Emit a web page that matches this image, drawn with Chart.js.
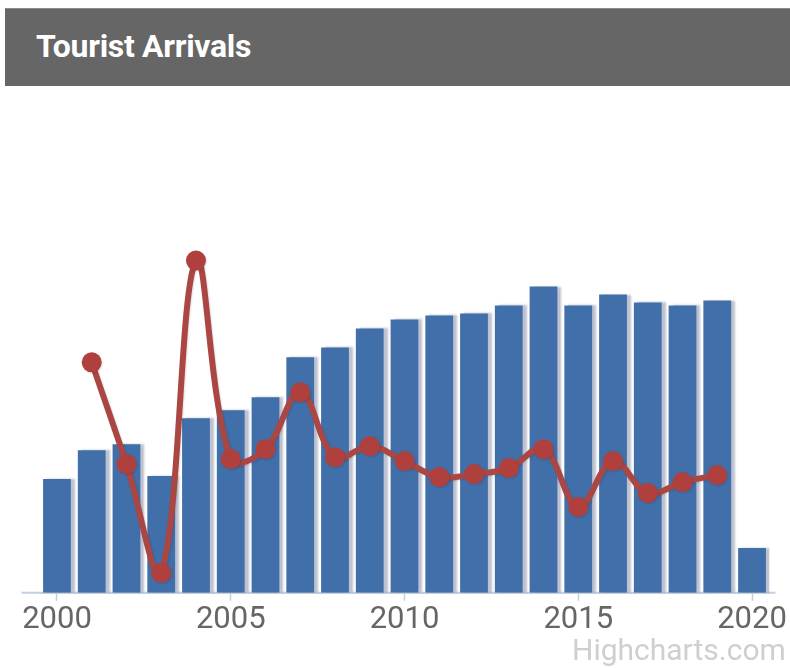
<!DOCTYPE html>
<html>
<head>
<meta charset="utf-8">
<script src="https://cdn.jsdelivr.net/npm/chart.js@4"></script>
<style>
  html, body { margin: 0; padding: 0; background: #fff; overflow: hidden; }
  body { width: 790px; height: 668px; position: relative; font-family: Roboto, "Noto Sans", sans-serif; }
  #titleBar {
    position: absolute; left: 5px; top: 8px; width: 785px; height: 78px;
    background: #666666; border-top: 1px solid #8a8a8a; box-sizing: border-box;
  }
  #titleBar span {
    position: absolute; left: 31px; top: 50%; transform: translateY(-54%);
    color: #fff; font-weight: bold; font-size: 32px; letter-spacing: -0.3px;
  }
  #credit {
    position: absolute; left: 572px; top: 632px; font-size: 30px; color: #cfcfcf; white-space: nowrap;
  }
  #chartWrap { position: absolute; left: 0; top: 0; width: 790px; height: 668px; }
</style>
</head>
<body>
<div id="chartWrap"><canvas id="arrivalsChart" width="790" height="668"></canvas></div>
<div id="titleBar"><span>Tourist Arrivals</span></div>
<div id="credit">Highcharts.com</div>

<script>
// ================= Data =================
const years = ["2000", "2001", "2002", "2003", "2004", "2005", "2006", "2007", "2008", "2009", "2010",
               "2011", "2012", "2013", "2014", "2015", "2016", "2017", "2018", "2019", "2020"];

// arrivals (millions) - bars
const arrivals = [4.56, 5.72, 5.96, 4.68, 7.0, 7.32, 7.84, 9.44, 9.84, 10.6, 10.96,
                  11.12, 11.2, 11.52, 12.28, 11.52, 11.96, 11.64, 11.52, 11.72, 1.8];

// second series - spline with markers
const growth = [null, 46.2, 25.8, 4.0, 66.6, 26.8, 28.8, 40.2, 27.2, 29.4, 26.4,
                23.2, 23.8, 25.0, 28.8, 17.2, 26.4, 20.0, 22.2, 23.6, null];

const tickYears = ["2000", "2005", "2010", "2015", "2020"];

// ================= Shadow plugin =================
const columnShadow = {
    id: "columnShadow",
    beforeDatasetDraw(chart, args) {
        const ctx = chart.ctx;
        ctx.save();
        if (args.meta.type === "bar") {
            ctx.shadowColor = "rgba(110,120,150,0.45)";
            ctx.shadowOffsetX = 4;
            ctx.shadowOffsetY = 0;
            ctx.shadowBlur = 2;
        } else {
            ctx.shadowColor = "rgba(0,0,0,0.12)";
            ctx.shadowOffsetX = 1;
            ctx.shadowOffsetY = 1;
            ctx.shadowBlur = 2;
        }
    },
    afterDatasetDraw(chart) {
        chart.ctx.restore();
    }
};

// ================= Axis line (runs a little past the plot, like Highcharts) =================
const axisLine = {
    id: "axisLine",
    beforeDatasetsDraw(chart) {
        const x = chart.scales.x;
        const ctx = chart.ctx;
        ctx.save();
        ctx.strokeStyle = "#C0D0E0";
        ctx.lineWidth = 2;
        ctx.beginPath();
        ctx.moveTo(x.left - 18, x.top);
        ctx.lineTo(x.right + 6, x.top);
        ctx.stroke();
        ctx.restore();
    }
};

// ================= Chart =================
const ctx = document.getElementById("arrivalsChart").getContext("2d");

const arrivalsChart = new Chart(ctx, {
    data: {
        labels: years,
        datasets: [{
            type: "line",
            label: "Growth",
            data: growth,
            yAxisID: "y1",
            borderColor: "#AA4643",
            backgroundColor: "#B0403D",
            borderWidth: 6,
            tension: 0.38,
            pointRadius: 10,
            pointHoverRadius: 10,
            pointBorderWidth: 0,
            spanGaps: false,
            order: 1
        }, {
            type: "bar",
            label: "Arrivals",
            data: arrivals,
            yAxisID: "y",
            backgroundColor: "#416FAA",
            borderWidth: 0,
            categoryPercentage: 1,
            barPercentage: 0.8,
            order: 2
        }]
    },
    options: {
        responsive: false,
        animation: false,
        layout: {
            padding: { left: 39.6, right: 20.6, top: 94, bottom: 28 }
        },
        plugins: {
            legend: { display: false },
            tooltip: { enabled: false }
        },
        scales: {
            x: {
                offset: true,
                grid: {
                    offset: false,
                    drawOnChartArea: false,
                    tickLength: 8,
                    tickWidth: 1.5,
                    color: c => tickYears.includes(years[c.index]) ? "#C0D0E0" : "rgba(0,0,0,0)"
                },
                border: { color: "#C0D0E0", width: 2 },
                ticks: {
                    autoSkip: false,
                    maxRotation: 0,
                    padding: 1,
                    color: "#666666",
                    font: { family: "Roboto", size: 31 },
                    callback: function (value) {
                        const label = this.getLabelForValue(value);
                        return tickYears.includes(label) ? label : "";
                    }
                }
            },
            y: {
                display: false,
                min: 0,
                max: 20
            },
            y1: {
                display: false,
                min: 0,
                max: 100
            }
        }
    },
    plugins: [columnShadow, axisLine]
});
</script>
</body>
</html>
